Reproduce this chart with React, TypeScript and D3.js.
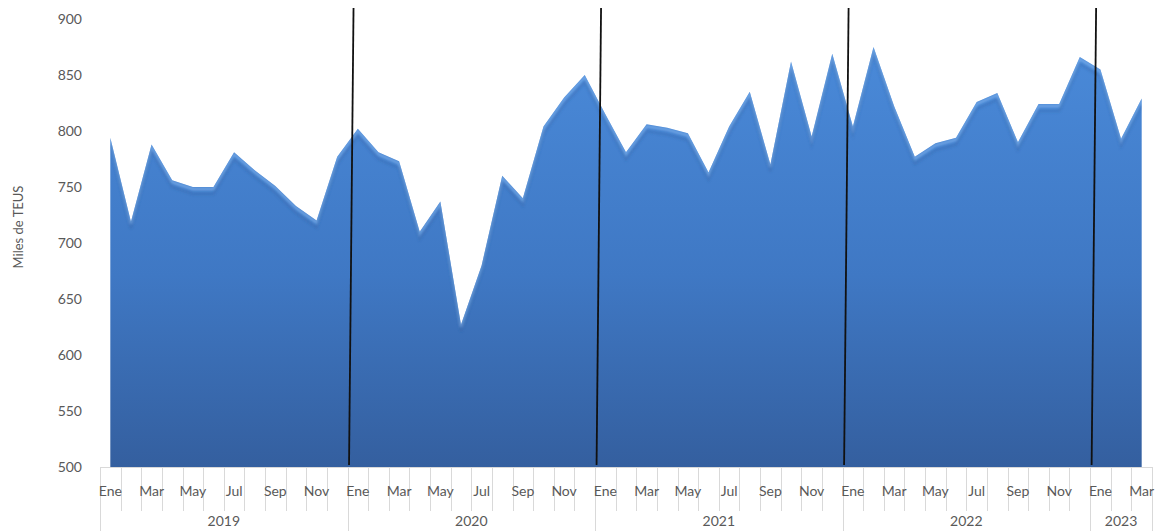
import { useEffect, useRef } from "react"
import * as d3 from "d3"

const years = ["2019", "2020", "2021", "2022", "2023"]
const monthNames = ["Ene", "Feb", "Mar", "Abr", "May", "Jun", "Jul", "Ago", "Sep", "Oct", "Nov", "Dic"]

// Miles de TEUS, Ene 2019 .. Mar 2023
const values2019 = [794, 719, 788, 756, 750, 750, 781, 765, 751, 733, 720, 777]
const values2020 = [802, 781, 773, 710, 737, 627, 680, 760, 740, 804, 830, 850]
const values2021 = [815, 781, 806, 803, 798, 763, 804, 835, 770, 862, 795, 869]
const values2022 = [804, 875, 822, 777, 789, 794, 826, 834, 790, 824, 824, 866]
const values2023 = [855, 793, 829]

const yTicks = [500, 550, 600, 650, 700, 750, 800, 850, 900]

const W = 1162
const H = 531

export default function App() {
  const svgRef = useRef<SVGSVGElement>(null)

  useEffect(() => {
    if (!svgRef.current) return
    const svg = d3.select(svgRef.current)
    svg.selectAll("*").remove()

    const series = [values2019, values2020, values2021, values2022, values2023]
    const data = series.flatMap((vals, yi) =>
      vals.map((v, mi) => ({ key: `${years[yi]}-${mi}`, year: years[yi], month: mi, value: v }))
    )

    const left = 100
    const right = 1152
    const top = 19
    const bottom = 467
    const font = "Lato, 'Open Sans', sans-serif"
    const grey = "#595959"
    const axisGrey = "#d9d9d9"

    const x = d3.scaleBand<string>().domain(data.map((d) => d.key)).range([left, right]).padding(0)
    const cx = (k: string) => (x(k) as number) + x.bandwidth() / 2
    const y = d3.scaleLinear().domain([500, 900]).range([bottom, top])

    const defs = svg.append("defs")
    const grad = defs
      .append("linearGradient")
      .attr("id", "fillGrad")
      .attr("x1", 0)
      .attr("y1", 0)
      .attr("x2", 0)
      .attr("y2", 1)
      .attr("gradientUnits", "userSpaceOnUse")
      .attr("x1", 0)
      .attr("y1", y(880))
      .attr("x2", 0)
      .attr("y2", y(500))
    grad.append("stop").attr("offset", "0%").attr("stop-color", "#4a8ad9")
    grad.append("stop").attr("offset", "55%").attr("stop-color", "#3f78c4")
    grad.append("stop").attr("offset", "100%").attr("stop-color", "#345f9f")

    const blur = defs.append("filter").attr("id", "soft")
    blur.append("feGaussianBlur").attr("stdDeviation", 1.2)

    const area = d3
      .area<(typeof data)[number]>()
      .x((d) => cx(d.key))
      .y0(y(500))
      .y1((d) => y(d.value))

    const topLine = d3
      .line<(typeof data)[number]>()
      .x((d) => cx(d.key))
      .y((d) => y(d.value))

    defs.append("clipPath").attr("id", "areaClip").append("path").attr("d", area(data))

    svg.append("path").attr("d", area(data)).attr("fill", "url(#fillGrad)")

    // bevel highlight along the top edge
    const bevel = svg.append("g").attr("clip-path", "url(#areaClip)")
    bevel
      .append("path")
      .attr("d", topLine(data))
      .attr("transform", "translate(0,2)")
      .attr("fill", "none")
      .attr("stroke", "#8bbcf2")
      .attr("stroke-width", 3)
      .attr("stroke-opacity", 0.55)
      .attr("filter", "url(#soft)")
    bevel
      .append("path")
      .attr("d", topLine(data))
      .attr("transform", "translate(0,7)")
      .attr("fill", "none")
      .attr("stroke", "#2f5f9e")
      .attr("stroke-width", 3)
      .attr("stroke-opacity", 0.25)
      .attr("filter", "url(#soft)")

    // y axis labels
    svg
      .append("g")
      .selectAll("text")
      .data(yTicks)
      .enter()
      .append("text")
      .attr("x", 82)
      .attr("y", (d) => y(d))
      .attr("dy", "0.35em")
      .attr("text-anchor", "end")
      .attr("font-family", font)
      .attr("font-size", 14)
      .attr("fill", grey)
      .text((d) => d)

    svg
      .append("text")
      .attr("transform", `translate(23,${227}) rotate(-90)`)
      .attr("text-anchor", "middle")
      .attr("font-family", font)
      .attr("font-size", 13)
      .attr("fill", grey)
      .text("Miles de TEUS")

    // category axis
    const ax = svg.append("g")
    ax.append("line")
      .attr("x1", left)
      .attr("x2", right)
      .attr("y1", bottom + 0.5)
      .attr("y2", bottom + 0.5)
      .attr("stroke", axisGrey)

    ax.selectAll(".mtick")
      .data(data.filter((d) => d.month !== 0))
      .enter()
      .append("line")
      .attr("x1", (d) => Math.round(x(d.key) as number) + 0.5)
      .attr("x2", (d) => Math.round(x(d.key) as number) + 0.5)
      .attr("y1", bottom)
      .attr("y2", bottom + 44)
      .attr("stroke", axisGrey)

    const yearStarts = years.map((yr) => data.find((d) => d.year === yr)!)
    const boundaries = [...yearStarts.map((d) => x(d.key) as number), right]
    ax.selectAll(".ytick")
      .data(boundaries)
      .enter()
      .append("line")
      .attr("x1", (d) => Math.round(d) + 0.5)
      .attr("x2", (d) => Math.round(d) + 0.5)
      .attr("y1", bottom)
      .attr("y2", H)
      .attr("stroke", axisGrey)

    ax.selectAll(".mlabel")
      .data(data.filter((d) => d.month % 2 === 0))
      .enter()
      .append("text")
      .attr("x", (d) => cx(d.key))
      .attr("y", 491)
      .attr("dy", "0.35em")
      .attr("text-anchor", "middle")
      .attr("font-family", font)
      .attr("font-size", 14)
      .attr("fill", grey)
      .text((d) => monthNames[d.month])

    ax.selectAll(".ylabel")
      .data(years)
      .enter()
      .append("text")
      .attr("x", (_, i) => (boundaries[i] + boundaries[i + 1]) / 2)
      .attr("y", 521)
      .attr("dy", "0.35em")
      .attr("text-anchor", "middle")
      .attr("font-family", font)
      .attr("font-size", 14)
      .attr("fill", grey)
      .text((d) => d)

    // hand-drawn year separators
    svg
      .append("g")
      .selectAll("line")
      .data(boundaries.slice(1, -1))
      .enter()
      .append("line")
      .attr("x1", (d) => d + 1.5)
      .attr("y1", bottom - 2)
      .attr("x2", (d) => d + 6)
      .attr("y2", 8)
      .attr("stroke", "#111")
      .attr("stroke-width", 1.8)
  }, [])

  return (
    <svg
      ref={svgRef}
      width={W}
      height={H}
      style={{ position: "absolute", left: 0, top: 0, background: "#fff" }}
    />
  )
}
